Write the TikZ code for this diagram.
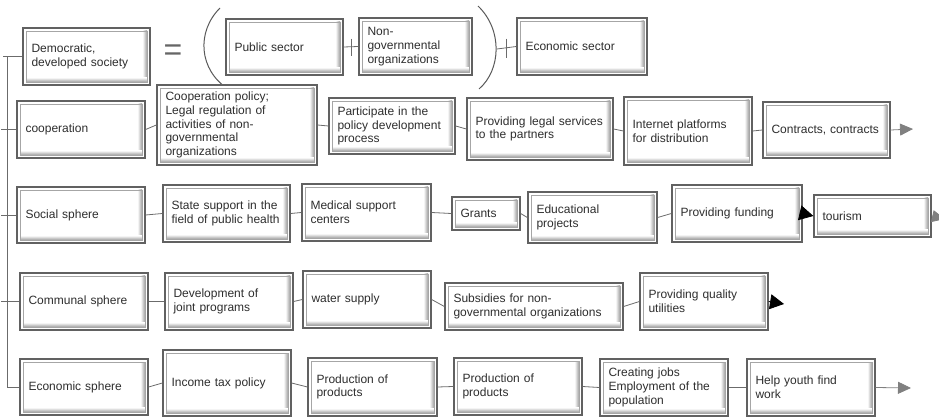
\documentclass[tikz,border=0pt]{standalone}
\usepackage{fontspec}
\setmainfont{Liberation Sans}
\usetikzlibrary{arrows.meta,calc}
\newcommand\bxfont{\fontsize{12}{13.7}\selectfont}
\tikzset{
  box/.style={draw=black!62, line width=1.3pt, fill=white, inner xsep=8.5pt, inner ysep=2pt,
    align=left, text=black!82, font=\bxfont,
    path picture={
      \coordinate (ppsw) at ([shift={(3pt,3pt)}]path picture bounding box.south west);
      \coordinate (ppne) at ([shift={(-3pt,-3pt)}]path picture bounding box.north east);
      \shade[left color=white, right color=black!38] ([xshift=-4.5pt]ppne) rectangle (ppne |- ppsw);
      \shade[top color=white, bottom color=black!38] (ppsw) rectangle ([yshift=4.5pt]ppsw -| ppne);
      \draw[black!35, line width=0.6pt] (ppsw) rectangle (ppne);
    }},
  conn/.style={draw=black!58, line width=0.8pt},
  garrow/.style={conn, draw=black!50, -{Triangle[length=13pt,width=12pt,fill=black!50]}},
  barrow/.style={conn, draw=black, -{Triangle[length=14pt,width=15pt,fill=black]}},
  paren/.style={draw=black!65, line width=1pt},
}
\newcommand\bx[6]{\node[box, minimum width=#3pt, text width=#5pt, minimum height=#4pt] (#1) at (#2) {#6};}
\begin{document}
\begin{tikzpicture}[x=1pt,y=-1pt]
\useasboundingbox (0,0) rectangle (939,419);
% top row
\bx{dem}{86.5,56.5}{127}{57}{110}{Democratic,\\developed society}
\node[font=\fontsize{32}{32}\selectfont, text=black!60, inner sep=0pt] (eq) at (173,53) {=};
\bx{pub}{284.5,47}{117}{56}{100}{Public sector}
\bx{ngo}{415.5,46.5}{113}{57}{96}{Non-\\governmental\\organizations}
\bx{ecs}{582,46.5}{130}{57}{113}{Economic sector}
\draw[paren] (220,8) .. controls (196,32) and (199,70) .. (228,89);
\draw[paren] (478,6) .. controls (503,30) and (501,70) .. (479,89);
\coordinate (rp) at (497,49);
\draw[conn] (pub.east) -- (ngo.west) coordinate[pos=.5] (plus1);
\draw[conn] ([yshift=8pt]plus1) -- ([yshift=-9pt]plus1);
\draw[conn] (rp) -- (ecs.west) coordinate[pos=.5] (plus2);
\draw[conn] ([yshift=9pt]plus2) -- ([yshift=-10pt]plus2);
% row 2
\bx{coop}{81,129.5}{128}{57}{111}{cooperation}
\bx{cpol}{237,125}{160}{80}{143}{Cooperation policy;\\Legal regulation of\\activities of non-\\governmental\\organizations}
\bx{part}{392,126}{126}{56}{109}{Participate in the\\policy development\\process}
\bx{legal}{540,129}{146}{62}{129}{Providing legal services\\to the partners}
\bx{inet}{688,131}{128}{68}{111}{Internet platforms\\for distribution}
\bx{contr}{826.5,130}{127}{56}{110}{Contracts, contracts}
\coordinate (e2) at (913,129);
\draw[conn] (coop.east) -- (cpol.west);
\draw[conn] (cpol.east) -- (part.west);
\draw[conn] (part.east) -- (legal.west);
\draw[conn] (legal.east) -- (inet.west);
\draw[conn] (inet.east) -- (contr.west);
\draw[garrow] (contr.east) -- (e2);
% row 3
\bx{soc}{81,215}{128}{56}{111}{Social sphere}
\bx{state}{226.5,213.5}{127}{57}{110}{State support in the\\field of public health}
\bx{med}{366.5,212.5}{129}{57}{112}{Medical support\\centers}
\bx{grants}{486,213.5}{68}{33}{51}{Grants}
\bx{edu}{592.5,217.5}{129}{51}{112}{Educational\\projects}
\bx{fund}{737,213.5}{130}{57}{113}{Providing funding}
\bx{tour}{872.5,216}{117}{42}{100}{tourism}
\coordinate (e3) at (945,219);
\draw[conn] (soc.east) -- (state.west);
\draw[conn] (state.east) -- (med.west);
\draw[conn] (med.east) -- (grants.west);
\draw[conn] (grants.east) -- (edu.west);
\draw[conn] (edu.east) -- (fund.west);
\draw[barrow] (fund.east) -- (tour.west);
\draw[garrow] (tour.east) -- (e3);
% row 4
\bx{comm}{84,301.5}{128}{57}{111}{Communal sphere}
\bx{dev}{229,301.5}{128}{57}{111}{Development of\\joint programs}
\bx{water}{367,299.5}{128}{57}{111}{water supply}
\bx{subs}{534,306.5}{178}{47}{161}{Subsidies for non-\\governmental organizations}
\bx{qual}{704,301.5}{128}{57}{111}{Providing quality\\utilities}
\coordinate (e4) at (784,304);
\draw[conn] (comm.east) -- (dev.west);
\draw[conn] (dev.east) -- (water.west);
\draw[conn] (water.east) -- (subs.west);
\draw[conn] (subs.east) -- (qual.west);
\draw[barrow] (qual.east) -- (e4);
% row 5
\bx{econ}{84,387}{128}{56}{111}{Economic sphere}
\bx{inc}{227,383}{128}{66}{111}{Income tax policy}
\bx{prodA}{372.5,387}{129}{58}{112}{Production of\\products}
\bx{prodB}{518,386.5}{128}{57}{111}{Production of\\products}
\bx{jobs}{664,387.5}{128}{57}{111}{Creating jobs\\Employment of the\\population}
\bx{help}{811,387.5}{128}{57}{111}{Help youth find\\work}
\coordinate (e5) at (911,388);
\draw[conn] (econ.east) -- (inc.west);
\draw[conn] (inc.east) -- (prodA.west);
\draw[conn] (prodA.east) -- (prodB.west);
\draw[conn] (prodB.east) -- (jobs.west);
\draw[conn] (jobs.east) -- (help.west);
\draw[garrow] (help.east) -- (e5);
% left spine
\coordinate (s1) at (7,56.5);
\coordinate (t1) at (3,56.5);
\coordinate (s5) at (7,387);
\coordinate (t2) at (1,129.5);
\coordinate (t3) at (1,215);
\coordinate (t4) at (1,301.5);
\draw[conn] (s1) -- (s5);
\draw[conn] (t1) -- (dem.west);
\draw[conn] (t2) -- (coop.west);
\draw[conn] (t3) -- (soc.west);
\draw[conn] (t4) -- (comm.west);
\draw[conn] (s5) -- (econ.west);
\end{tikzpicture}
\end{document}
